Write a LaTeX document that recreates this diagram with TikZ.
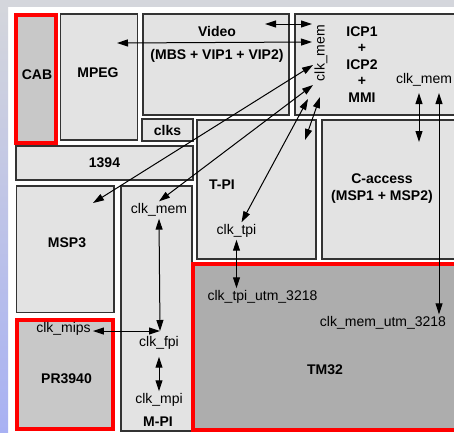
\documentclass[tikz,border=0pt]{standalone}
\usepackage{fontspec}
\setmainfont{Liberation Sans}
\usetikzlibrary{arrows.meta}
\definecolor{boxgray}{HTML}{E3E3E3}
\definecolor{cabgray}{HTML}{C8C8C8}
\definecolor{tmgray}{HTML}{ADADAD}
\definecolor{stripgray}{HTML}{D4D6DC}
\definecolor{stripblue}{HTML}{A8B1F3}

\begin{document}
\begin{tikzpicture}[x=1pt,y=-1pt,>={Triangle[length=11pt,width=7pt]},
    blk/.style={draw=black!80,line width=1.2pt,fill=boxgray,inner sep=0pt},
    redblk/.style={draw=red,line width=4pt,inner sep=0pt},
    title/.style={font=\fontsize{14}{16.4}\selectfont\bfseries,inner sep=0pt},
    clk/.style={font=\fontsize{14}{16}\selectfont,inner sep=2pt},
    wire/.style={<->,line width=1pt}]
    \clip (0,0) rectangle (454,432);
    \fill[white] (0,0) rectangle (454,432);
    \fill[stripgray] (0,0) rectangle (454,7);
    \shade[top color=stripgray,bottom color=stripblue] (0,7) rectangle (8,432);

    % floorplan blocks
    \node[redblk,fill=cabgray,minimum width=40pt,minimum height=127.5pt] (cab) at (36.1,78.75) {};
    \node[blk,minimum width=77pt,minimum height=126pt] (mpeg) at (99,77) {};
    \node[blk,minimum width=146pt,minimum height=101pt] (video) at (216,64.5) {};
    \node[blk,minimum width=175pt,minimum height=101pt] (icp) at (382.5,64.5) {};
    \node[blk,title,minimum width=51pt,minimum height=22pt] (clks) at (167.5,130) {clks};
    \node[blk,minimum width=119pt,minimum height=139pt] (tpi) at (256.5,189.5) {};
    \node[blk,minimum width=148pt,minimum height=139pt] (cacc) at (396,189.5) {};
    \node[blk,title,minimum width=177pt,minimum height=34pt] (fw) at (104.5,163) {1394};
    \node[blk,minimum width=97.5pt,minimum height=126.5pt] (msp) at (65.25,249.25) {};
    \node[blk,minimum width=71pt,minimum height=245pt] (mpi) at (156.5,308.5) {};
    \node[redblk,fill=cabgray,minimum width=96.2pt,minimum height=109.6pt] (pr) at (64.6,374.5) {};
    \node[redblk,fill=tmgray,minimum width=277pt,minimum height=166.3pt] (tm) at (331.5,346.85) {};

    % block names
    \node[title] (cabt) at (37,75) {CAB};
    \node[title] (mpegt) at (98,73) {MPEG};
    \node[title] (videot) at (217,31) {Video};
    \node[title] (videot2) at (217,56) {(MBS + VIP1 + VIP2)};
    \node[title,align=center] (icpt) at (362,64.5) {ICP1\\+\\ICP2\\+\\MMI};
    \node[title] (tpit) at (222,185) {T-PI};
    \node[title,align=center,font=\fontsize{14}{17}\selectfont\bfseries] (cacct) at (382,188.5) {C-access\\(MSP1 + MSP2)};
    \node[title] (mspt) at (67,243) {MSP3};
    \node[title] (prt) at (66.5,379) {PR3940};
    \node[title] (tmt) at (325,370) {TM32};
    \node[title] (mpit) at (158,422) {M-PI};

    % clock labels
    \node[clk,rotate=90] (icpmem) at (321,53) {clk\_mem};
    \node[clk] (icpmem2) at (424,80) {clk\_mem};
    \node[clk] (mpimem) at (159,210) {clk\_mem};
    \node[clk] (tpiclk) at (236.5,231) {clk\_tpi};
    \node[clk] (tpiutm) at (262.5,297) {clk\_tpi\_utm\_3218};
    \node[clk] (memutm) at (383,323) {clk\_mem\_utm\_3218};
    \node[clk] (mips) at (63.5,329) {clk\_mips};
    \node[clk] (fpi) at (159,343) {clk\_fpi};
    \node[clk] (mpiclk) at (159,400) {clk\_mpi};

    % arrow ends
    \coordinate (v1) at (265,24);
    \coordinate (c1) at (312,24);
    \coordinate (m1) at (117,43);
    \coordinate (c2) at (312,42);
    \coordinate (s1) at (93,203);
    \coordinate (c3) at (313,65);
    \coordinate (c4) at (313,85);
    \coordinate (c5) at (308,99);
    \coordinate (c6) at (320,97);
    \coordinate (t1) at (305,140);
    \coordinate (k1) at (419,93);
    \coordinate (k2) at (419,142);
    \coordinate (l1) at (439,93);
    \coordinate (fpin) at (160,331);

    \draw[wire] (v1) -- (c1);
    \draw[wire] (m1) -- (c2);
    \draw[wire] (s1) -- (c3);
    \draw[wire] (mpimem.north) -- (c4);
    \draw[wire] ([xshift=5pt]tpiclk.north) -- (c5);
    \draw[wire] (t1) -- (c6);
    \draw[wire] (k1) -- (k2);
    \draw[wire] (l1) -- (l1 |- memutm.north);
    \draw[wire] (tpiclk.south) -- (tpiclk.south |- tpiutm.north);
    \draw[wire] (mpimem.south) -- (fpin);
    \draw[wire] (mips.east |- fpin) -- (fpin);
    \draw[wire,shorten <=5pt] (fpi.south) -- (mpiclk.north);
\end{tikzpicture}
\end{document}
